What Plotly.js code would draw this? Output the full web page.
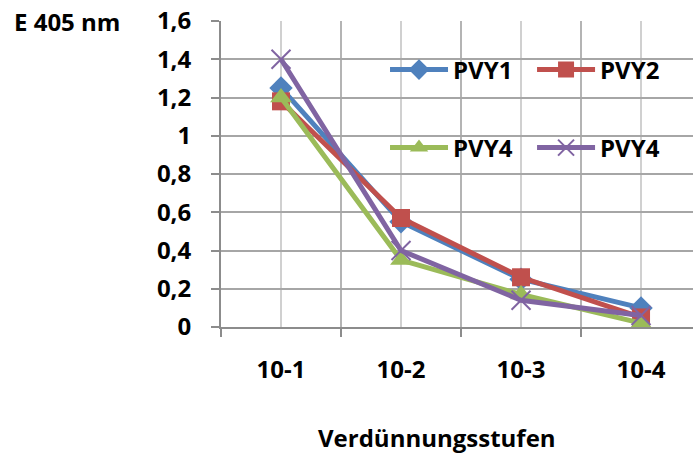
<!DOCTYPE html>
<html><head><meta charset="utf-8">
<script src="https://cdn.plot.ly/plotly-3.0.1.min.js"></script>
<style>html,body{margin:0;padding:0;background:#fff}#c{width:693px;height:454px}</style>
</head><body><div id="c"></div>
<script>
const categories = ['10-1', '10-2', '10-3', '10-4'];
const pvy1 = [1.25, 0.55, 0.25, 0.10];
const pvy2 = [1.18, 0.57, 0.26, 0.05];
const pvy4a = [1.20, 0.35, 0.17, 0.02];
const pvy4b = [1.40, 0.40, 0.14, 0.06];
const seriesNames = ['PVY1', 'PVY2', 'PVY4', 'PVY4'];
const yTicks = [0, 0.2, 0.4, 0.6, 0.8, 1, 1.2, 1.4, 1.6];
const yTickText = ['0', '0,2', '0,4', '0,6', '0,8', '1', '1,2', '1,4', '1,6'];

const idx = categories.map((_, i) => i);
const F = 'Open Sans, Liberation Sans, sans-serif';
const fnt = {family: F, size: 24, color: '#000', weight: 700};

function tr(y, name, color, symbol, size, legend, mline) {
  return {
    x: idx, y: y, name: name, type: 'scatter', mode: 'lines+markers',
    line: {color: color, width: 5},
    marker: {symbol: symbol, size: size, color: color, line: mline || {width: 0}},
    legend: legend
  };
}
const data = [
  tr(pvy1, seriesNames[0], '#4F81BD', 'diamond', 18, 'legend'),
  tr(pvy2, seriesNames[1], '#C0504D', 'square', 18, 'legend2'),
  tr(pvy4a, seriesNames[2], '#9BBB59', 'triangle-up', 19, 'legend3'),
  tr(pvy4b, seriesNames[3], '#8064A2', 'x-thin', 19, 'legend4', {color: '#8064A2', width: 2})
];

function leg(x, y) {
  return {x: x, y: y, orientation: 'v', xanchor: 'left', yanchor: 'middle',
    font: fnt, bgcolor: 'rgba(0,0,0,0)', itemwidth: 58, borderwidth: 0};
}

const layout = {
  width: 693, height: 454,
  margin: {l: 221, r: 0, t: 21, b: 127, pad: 0},
  paper_bgcolor: '#fff', plot_bgcolor: '#fff',
  showlegend: true,
  font: fnt,
  xaxis: {
    range: [-0.5, 3.433], tickmode: 'array', tickvals: idx, ticktext: categories,
    showgrid: true, gridcolor: '#d0d0d0', gridwidth: 2,
    ticks: '', showline: true, linecolor: '#8c8c8c', linewidth: 2,
    zeroline: false, tickfont: fnt, ticklabelstandoff: 20,
    minor: {tickmode: 'array', tickvals: [-0.5, 0.5, 1.5, 2.5, 3.5], showgrid: true,
            gridcolor: '#b4b4b4', gridwidth: 2, ticks: 'outside', ticklen: 8,
            tickcolor: '#8c8c8c', tickwidth: 2}
  },
  yaxis: {
    range: [0, 1.6], tickmode: 'array', tickvals: yTicks, ticktext: yTickText,
    showgrid: true, gridcolor: '#a6a6a6', gridwidth: 2,
    ticks: 'outside', ticklen: 8, tickcolor: '#8c8c8c', tickwidth: 2,
    showline: true, linecolor: '#8c8c8c', linewidth: 2, zeroline: false,
    tickfont: fnt, ticklabelstandoff: 15
  },
  legend: leg(0.3475, 0.84),
  legend2: leg(0.659, 0.84),
  legend3: leg(0.3475, 0.585),
  legend4: leg(0.659, 0.585),
  annotations: [
    {text: 'E 405 nm', xref: 'paper', yref: 'paper', x: -0.326, y: 1, xanchor: 'center', yanchor: 'middle',
     showarrow: false, font: fnt},
    {text: 'Verdünnungsstufen', xref: 'paper', yref: 'paper', x: 0.4576, y: -0.3595, xanchor: 'center', yanchor: 'middle',
     showarrow: false, font: fnt}
  ]
};
Plotly.newPlot('c', data, layout, {displayModeBar: false, staticPlot: true});
</script></body></html>
